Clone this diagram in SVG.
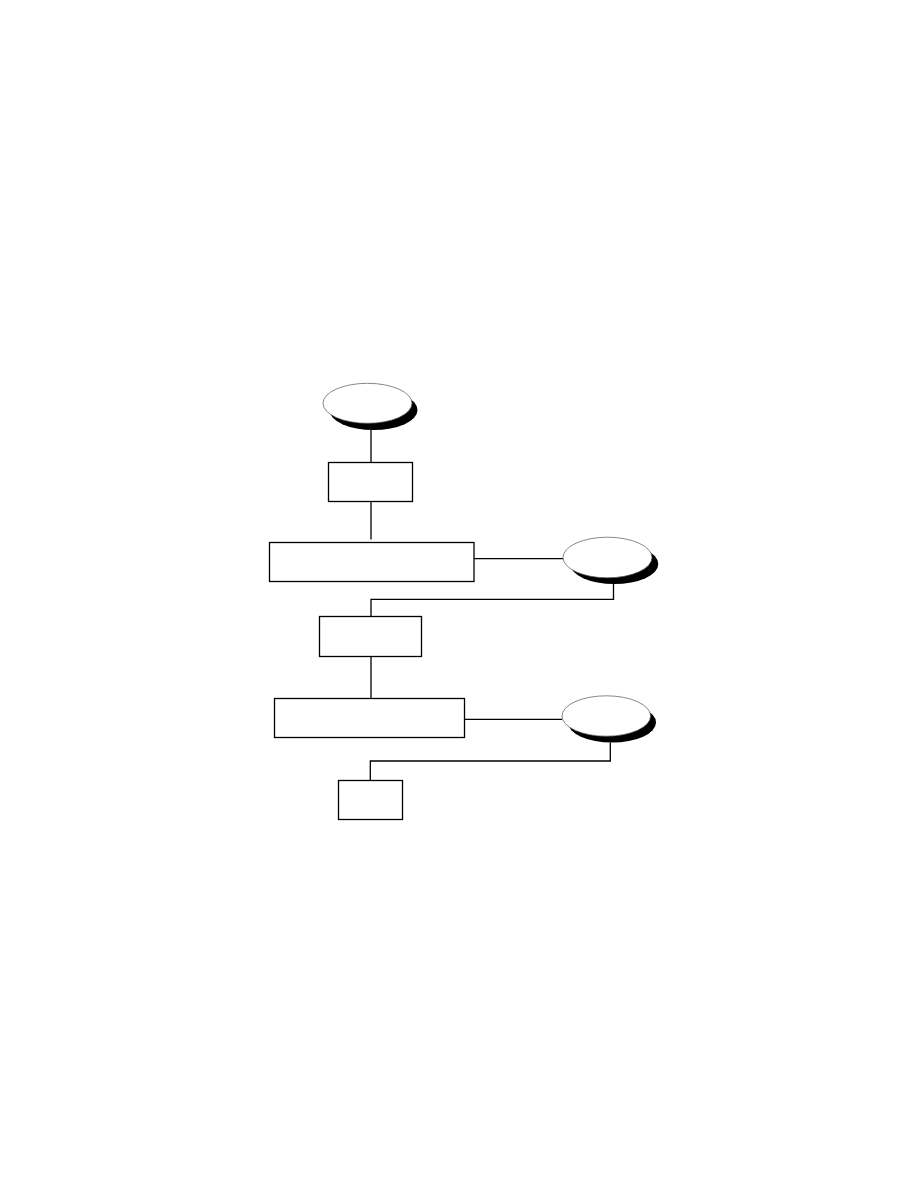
<svg xmlns="http://www.w3.org/2000/svg" width="918" height="1188" viewBox="0 0 918 1188">
<style>
.box{fill:#fff;stroke:#000;stroke-width:1.3}
.sh{fill:#000;stroke:none}
.el{fill:#fff;stroke:#555;stroke-width:0.7}
.c{fill:none;stroke:#000;stroke-width:1.3}
</style>
<rect width="918" height="1188" fill="#fff"/>
<g id="connectors">
<path class="c" d="M371 430 V462.5"/>
<path class="c" d="M371 501.5 V539.5"/>
<path class="c" d="M474 558.7 H563"/>
<path class="c" d="M613.5 584 V599.3 H371 V616.5"/>
<path class="c" d="M371 656.5 V698.5"/>
<path class="c" d="M463.5 719.3 H562"/>
<path class="c" d="M610.3 742.5 V761 H370.3 V780.5"/>
</g>
<g id="start">
<ellipse class="sh" cx="373.5" cy="410" rx="44" ry="20"/>
<ellipse class="el" cx="367.5" cy="403.3" rx="44.5" ry="20"/>
</g>
<g id="box1"><rect class="box" x="328.5" y="462.5" width="84" height="39"/></g>
<g id="box2"><rect class="box" x="269.5" y="542.5" width="204.5" height="39"/></g>
<g id="oval2">
<ellipse class="sh" cx="614.3" cy="564" rx="44" ry="20"/>
<ellipse class="el" cx="607.5" cy="557.5" rx="44.5" ry="20.3"/>
</g>
<g id="box3"><rect class="box" x="319.5" y="616.5" width="102" height="40"/></g>
<g id="box4"><rect class="box" x="274.5" y="698.5" width="190" height="39"/></g>
<g id="oval3">
<ellipse class="sh" cx="612" cy="722.5" rx="44" ry="20"/>
<ellipse class="el" cx="606.3" cy="716" rx="44.3" ry="20.2"/>
</g>
<g id="box5"><rect class="box" x="338.5" y="780.5" width="64" height="39"/></g>
</svg>
